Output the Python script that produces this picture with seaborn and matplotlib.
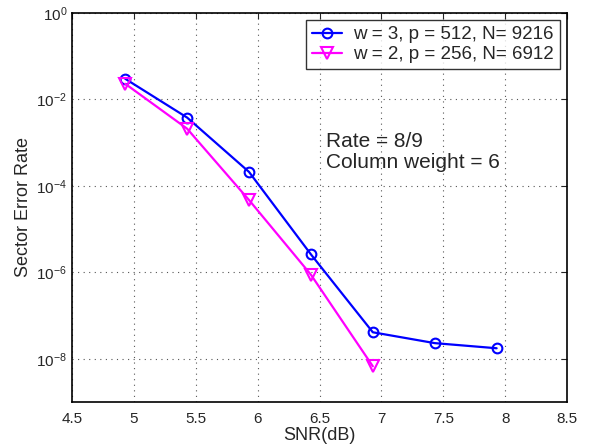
import matplotlib
matplotlib.use("Agg")
import matplotlib.pyplot as plt
import seaborn as sns
import numpy as np

snr_w3 = [4.93, 5.43, 5.93, 6.43, 6.93, 7.43, 7.93]
ser_w3 = [3.0e-2, 3.8e-3, 2.1e-4, 2.6e-6, 4.1e-8, 2.3e-8, 1.75e-8]
snr_w2 = [4.93, 5.43, 5.93, 6.43, 6.93]
ser_w2 = [2.3e-2, 2.1e-3, 4.7e-5, 8.8e-7, 6.7e-9]

label_w3 = "w = 3, p = 512, N= 9216"
label_w2 = "w = 2, p = 256, N= 6912"
xticks = [4.5, 5, 5.5, 6, 6.5, 7, 7.5, 8, 8.5]
yticks = [1e0, 1e-2, 1e-4, 1e-6, 1e-8]

sns.set_style("white")
plt.rcParams['font.family'] = ['Liberation Sans', 'DejaVu Sans']
plt.rcParams['mathtext.fontset'] = 'custom'
plt.rcParams['mathtext.rm'] = 'Liberation Sans'

fig = plt.figure(figsize=(5.92, 4.47), dpi=100)
ax = fig.add_axes([0.1216, 0.1007, 0.8365, 0.8703])

sns.lineplot(x=snr_w3, y=ser_w3, ax=ax, color="#0000ff", lw=1.6,
             marker="o", markersize=7, markerfacecolor="none",
             markeredgecolor="#0000ff", markeredgewidth=1.5, label=label_w3)
sns.lineplot(x=snr_w2, y=ser_w2, ax=ax, color="#ff00ff", lw=1.6,
             marker="v", markersize=8, markerfacecolor="none",
             markeredgecolor="#ff00ff", markeredgewidth=1.5, label=label_w2)

ax.set_yscale("log")
ax.set_xlim(4.5, 8.5)
ax.set_ylim(1e-9, 1e0)
ax.set_xticks(xticks)
ax.set_xticklabels([f"{t:g}" for t in xticks])
ax.set_yticks(yticks)
ax.yaxis.set_minor_locator(matplotlib.ticker.NullLocator())
ax.tick_params(direction="in", top=True, right=True, labelsize=11, length=4)
ax.tick_params(axis="x", pad=7)

ax.grid(True, linestyle=(0, (1, 4)), color="#555555", lw=0.8)
for s in ax.spines.values():
    s.set_linewidth(1.2)
    s.set_color("black")

ax.set_xlabel("SNR(dB)", fontsize=13, labelpad=1)
ax.set_ylabel("Sector Error Rate", fontsize=13, labelpad=3)

ax.text(6.55, 1.75e-3, "Rate = 8/9\nColumn weight = 6", fontsize=15,
        va="top", ha="left", linespacing=1.15)

leg = ax.legend(loc="upper right", fontsize=13.5, frameon=True, fancybox=False,
                borderpad=0.3, handlelength=1.6, labelspacing=0.15,
                borderaxespad=0.4, handletextpad=0.6)
leg.get_frame().set_edgecolor("black")
leg.get_frame().set_linewidth(1.0)

fig.savefig("out.png", dpi=100)
